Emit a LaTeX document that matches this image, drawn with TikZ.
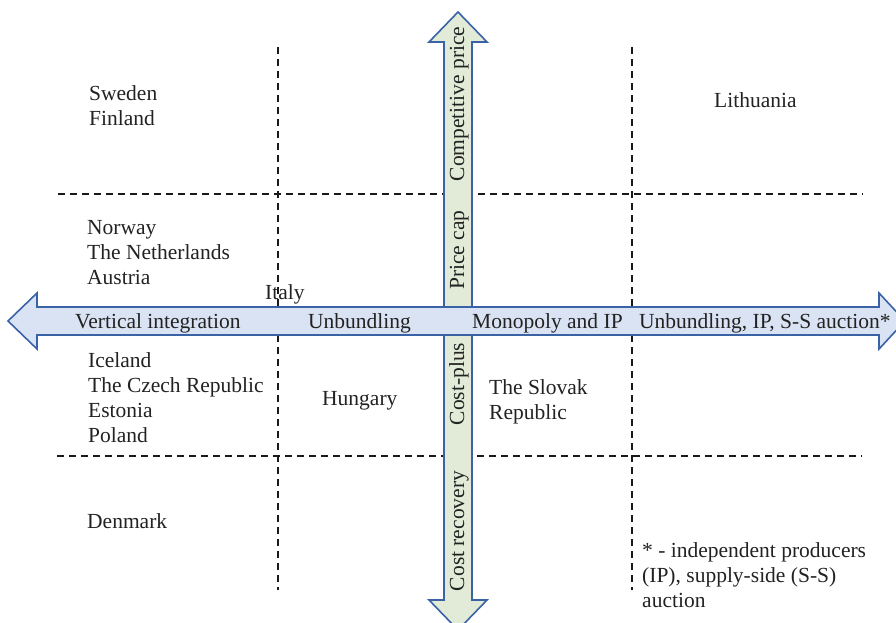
\documentclass[tikz,border=0pt]{standalone}
\usepackage{fontspec}
\setmainfont{Liberation Serif}
\definecolor{arrowline}{HTML}{3A62A6}
\definecolor{hfill}{HTML}{DAE3F3}
\definecolor{vfill}{HTML}{E2EBD7}
\definecolor{txt}{HTML}{222222}
\begin{document}
\begin{tikzpicture}[x=1pt,y=-1pt,
  lbl/.style={font=\fontsize{21.5}{24.7}\selectfont, inner sep=0pt, anchor=base west, align=left, text=txt},
  vlbl/.style={font=\fontsize{21.5}{24.7}\selectfont, inner sep=0pt, anchor=base, rotate=90, text=txt},
  gridline/.style={line width=2.2pt, dash pattern=on 7pt off 5pt, black!90},
  blockarrow/.style={draw=arrowline, line width=1.6pt, line join=miter}]
\useasboundingbox (0,0) rectangle (896,623);
\clip (0,0) rectangle (896,623);
% dashed grid
\coordinate (v1t) at (278,47); \coordinate (v1b) at (278,590);
\coordinate (v2t) at (632,47); \coordinate (v2b) at (632,590);
\coordinate (h1l) at (58,194); \coordinate (h1r) at (863,194);
\coordinate (h2l) at (57,456); \coordinate (h2r) at (862,456);
\draw[gridline] (v1t) -- (v1b);
\draw[gridline] (v2t) -- (v2b);
\draw[gridline] (h1l) -- (h1r);
\draw[gridline] (h2l) -- (h2r);
% vertical block arrow
\path[blockarrow, fill=vfill] (458,12) -- (487,42) -- (472,42) -- (472,600) -- (487,600) -- (458,630)
  -- (429,600) -- (444,600) -- (444,42) -- (429,42) -- cycle;
% horizontal block arrow
\path[blockarrow, fill=hfill] (8,321) -- (37,293) -- (37,307) -- (879,307) -- (879,293) -- (905,321)
  -- (879,349) -- (879,335) -- (37,335) -- (37,349) -- cycle;
% arrow labels
\node[lbl] (vi) at (75,328) {Vertical integration};
\node[lbl] (ub) at (308,328) {Unbundling};
\node[lbl] (mip) at (472,328) {Monopoly and IP};
\node[lbl] (uip) at (639,328) {Unbundling, IP, S-S auction*};
\node[vlbl] (cp) at (464,104) {Competitive price};
\node[vlbl] (pc) at (464,250) {Price cap};
\node[vlbl] (cpl) at (464,384) {Cost-plus};
\node[vlbl] (cr) at (464,531) {Cost recovery};
% countries (base anchor = baseline of last line)
\node[lbl] (swe) at (89,125) {Sweden\\Finland};
\node[lbl] (lit) at (714,108) {Lithuania};
\node[lbl] (nor) at (87,284) {Norway\\The Netherlands\\Austria};
\node[lbl] (ita) at (265,299) {Italy};
\node[lbl] (ice) at (88,442) {Iceland\\The Czech Republic\\Estonia\\Poland};
\node[lbl] (hun) at (322,405) {Hungary};
\node[lbl] (slo) at (489,419) {The Slovak\\Republic};
\node[lbl] (den) at (87,528) {Denmark};
\node[lbl] (fn) at (642,607) {* - independent producers\\(IP), supply-side (S-S)\\auction};
\end{tikzpicture}
\end{document}
